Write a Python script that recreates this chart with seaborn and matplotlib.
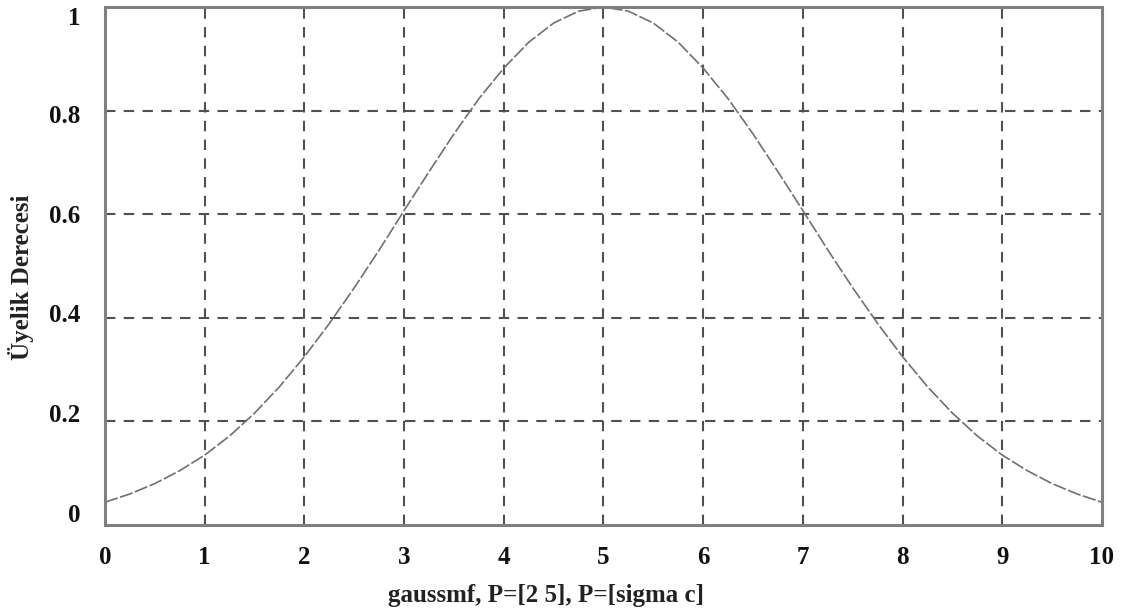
import numpy as np
import pandas as pd
import matplotlib
matplotlib.use("Agg")
import matplotlib.pyplot as plt
import matplotlib.transforms as mtrans
import seaborn as sns

# Values (membership degree vs x)
x_vals = [0, 0.25, 0.5, 0.75, 1, 1.25, 1.5, 1.75, 2, 2.25, 2.5, 2.75, 3, 3.25, 3.5,
          3.75, 4, 4.25, 4.5, 4.75, 5, 5.25, 5.5, 5.75, 6, 6.25, 6.5, 6.75, 7,
          7.25, 7.5, 7.75, 8, 8.25, 8.5, 8.75, 9, 9.25, 9.5, 9.75, 10]
y_vals = [0.044, 0.060, 0.080, 0.105, 0.135, 0.172, 0.216, 0.267, 0.325, 0.389,
          0.458, 0.531, 0.607, 0.682, 0.755, 0.823, 0.882, 0.932, 0.969, 0.992,
          1.000, 0.992, 0.969, 0.932, 0.882, 0.823, 0.755, 0.682, 0.607, 0.531,
          0.458, 0.389, 0.325, 0.267, 0.216, 0.172, 0.135, 0.105, 0.080, 0.060,
          0.044]
x_ticks = [0, 1, 2, 3, 4, 5, 6, 7, 8, 9, 10]
y_ticks = [0, 0.2, 0.4, 0.6, 0.8, 1]
y_tick_labels = ["0", "0.2", "0.4", "0.6", "0.8", "1"]
x_label = "gaussmf, P=[2 5], P=[sigma c]"
y_label = "Üyelik Derecesi"

df = pd.DataFrame({"x": x_vals, "y": y_vals})

sns.set_theme(style="white")
plt.rcParams["font.family"] = ["Liberation Serif", "DejaVu Serif"]

fig = plt.figure(figsize=(11.33, 6.15), dpi=100)
ax = fig.add_axes([0.0927, 0.1463, 0.8799, 0.8423])

sns.lineplot(data=df, x="x", y="y", ax=ax, color="#707070", linewidth=1.2,
             linestyle=(0, (8, 1.5)))

ax.set_xlim(0, 10)
ax.set_ylim(0, 1)
ax.set_xticks(x_ticks)
ax.set_xticklabels([str(t) for t in x_ticks])
ax.set_yticks(y_ticks)
ax.set_yticklabels(y_tick_labels)

grid_kw = dict(color="#505050", linewidth=1.5, linestyle=(0, (5, 4)))
for xv in x_ticks[1:-1]:
    ax.axvline(xv, **grid_kw, zorder=0)
for yv in y_ticks[1:-1]:
    ax.axhline(yv, **grid_kw, zorder=0)

for s in ax.spines.values():
    s.set_color("#808080")
    s.set_linewidth(2.2)
    s.set_visible(True)

ax.tick_params(axis="both", length=0, labelsize=18, colors="#111111")
ax.tick_params(axis="x", pad=15)
ax.tick_params(axis="y", pad=18)
for lab in ax.get_xticklabels() + ax.get_yticklabels():
    lab.set_fontweight("bold")

# the reference's y tick labels sit slightly off their grid lines (pixels, down is +)
y_label_shift_px = [-12, -8, -4.5, -0.5, 3.5, 8.5]
for lab, dy in zip(ax.get_yticklabels(), y_label_shift_px):
    lab.set_transform(lab.get_transform() +
                      mtrans.ScaledTranslation(0, -dy / 100, fig.dpi_scale_trans))

ax.set_xlabel(x_label, fontsize=18, fontweight="bold", color="#222222")
ax.set_ylabel(y_label, fontsize=18, fontweight="bold", color="#222222")
ax.xaxis.set_label_coords((546 - 105) / 997, -(595 - 525) / 518)
ax.yaxis.set_label_coords(-(105 - 21) / 997, (525 - 277) / 518)
ax.xaxis.label.set_va("center")
ax.yaxis.label.set_va("center")

fig.savefig("out.png", dpi=100)
